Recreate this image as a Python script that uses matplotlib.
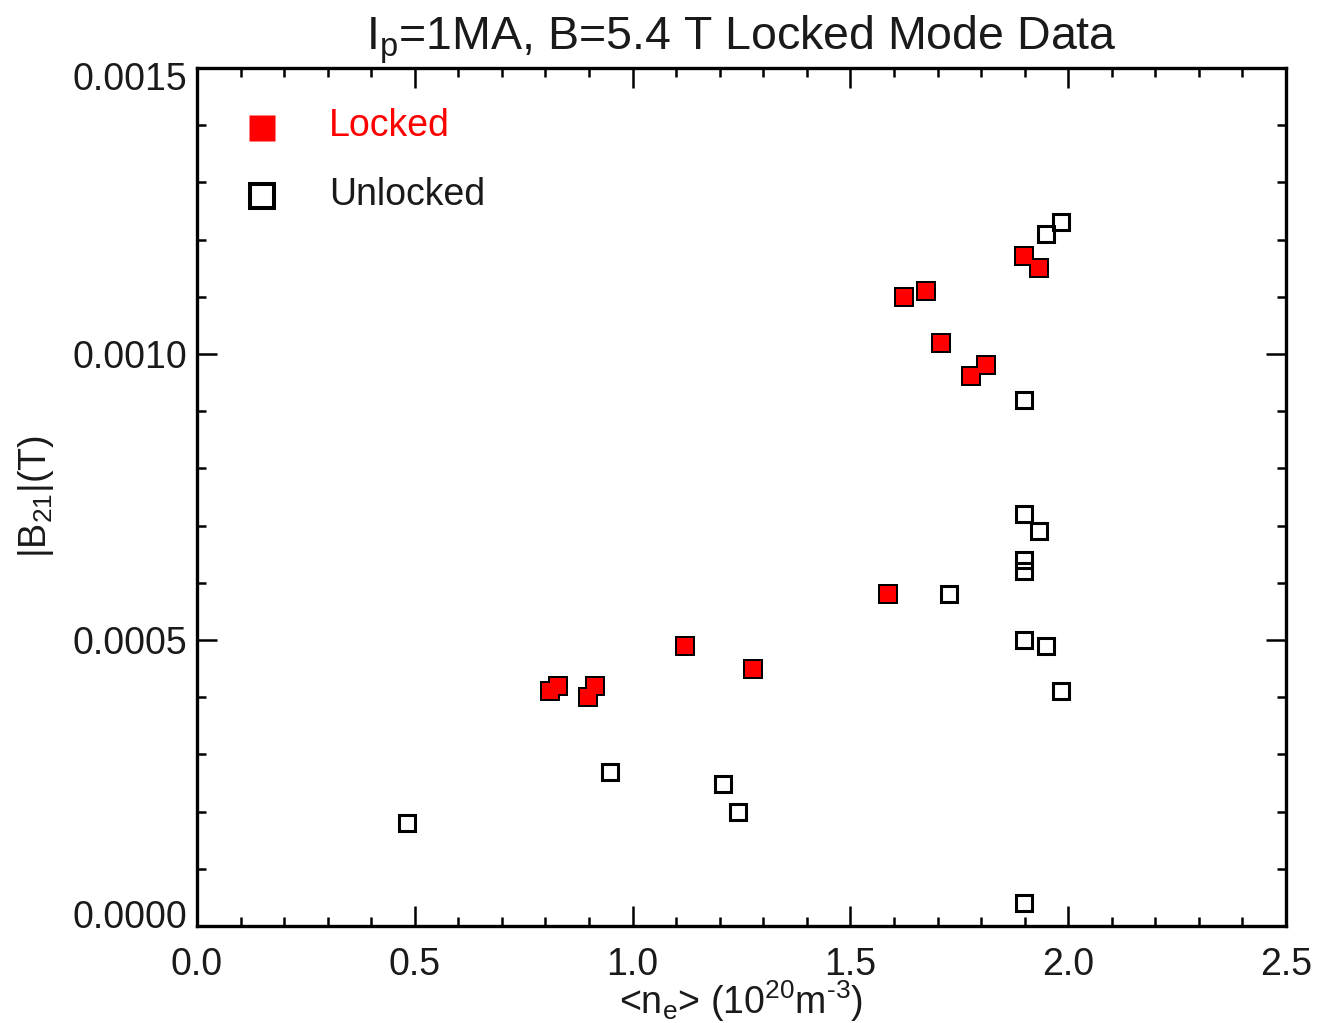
import matplotlib
matplotlib.use("Agg")
import matplotlib.pyplot as plt
from matplotlib.ticker import MultipleLocator, FormatStrFormatter
from matplotlib.transforms import ScaledTranslation

plt.rcParams['font.family'] = ['Liberation Sans', 'DejaVu Sans']
plt.rcParams['mathtext.fontset'] = 'custom'
plt.rcParams['mathtext.rm'] = 'Liberation Sans'
plt.rcParams['mathtext.it'] = 'Liberation Sans:italic'
plt.rcParams['mathtext.bf'] = 'Liberation Sans:bold'

# Line-averaged density (1e20 m^-3) and |B21| (T)
locked_ne = [0.810, 0.828, 0.898, 0.914, 1.121, 1.276, 1.586,
             1.622, 1.674, 1.707, 1.777, 1.811, 1.898, 1.932]
locked_b21 = [0.000411, 0.000420, 0.000400, 0.000420, 0.000490, 0.000449, 0.000580,
              0.001100, 0.001110, 0.001020, 0.000962, 0.000980, 0.001171, 0.001150]

unlocked_ne = [0.482, 0.949, 1.2075, 1.242, 1.726, 1.898, 1.932, 1.898, 1.898,
               1.898, 1.950, 1.983, 1.898, 1.950, 1.983, 1.898]
unlocked_b21 = [0.000180, 0.000269, 0.000249, 0.000199, 0.000580, 0.000720, 0.000690,
                0.000640, 0.000620, 0.000500, 0.000489, 0.000410, 0.000920,
                0.001210, 0.001231, 0.0000402]

title = r'I$_\mathregular{p}$=1MA, B=5.4 T Locked Mode Data'
xlabel = '<n$_\\mathregular{e}$> (10$^\\mathregular{20}$m$^\\mathregular{\u20103}$)'
ylabel = r'|B$_\mathregular{21}$|(T)'

TXT = '#1a1a1a'
FS = 27

fig = plt.figure(figsize=(13.17, 10.23), dpi=100)
ax = fig.add_axes([197 / 1317, 97 / 1023, 1089 / 1317, 858 / 1023])

# unlocked: open squares
ax.plot(unlocked_ne, unlocked_b21, ls='none', marker='s', ms=11.7,
        mfc='none', mec='black', mew=2.2, zorder=3)
# locked: black outline layer, then red fill on top so overlaps merge
ax.plot(locked_ne, locked_b21, ls='none', marker='s', ms=13.9,
        mfc='black', mec='none', mew=0, zorder=4)
ax.plot(locked_ne, locked_b21, ls='none', marker='s', ms=11.0,
        mfc='red', mec='none', mew=0, zorder=5)

ax.set_xlim(0, 2.5)
ax.set_ylim(0, 0.0015)
ax.xaxis.set_major_locator(MultipleLocator(0.5))
ax.xaxis.set_minor_locator(MultipleLocator(0.1))
ax.yaxis.set_major_locator(MultipleLocator(0.0005))
ax.yaxis.set_minor_locator(MultipleLocator(0.0001))
ax.xaxis.set_major_formatter(FormatStrFormatter('%.1f'))
ax.yaxis.set_major_formatter(FormatStrFormatter('%.4f'))

ax.tick_params(which='both', direction='in', top=True, right=True,
               colors='black', labelcolor=TXT, labelsize=FS, width=1.8)
ax.tick_params(which='major', length=14.4)
ax.tick_params(which='minor', length=6.5)
ax.tick_params(axis='x', which='major', pad=15)
ax.tick_params(axis='y', which='major', pad=7)
for sp in ax.spines.values():
    sp.set_linewidth(2.4)
    sp.set_color('black')

ax.set_title(title, fontsize=33.5, color=TXT, pad=13)
ax.set_xlabel(xlabel, fontsize=FS, color=TXT, labelpad=-3)
ax.set_ylabel(ylabel, fontsize=FS, color=TXT, labelpad=12)

# key
ax.plot([0.0597], [0.930], transform=ax.transAxes, ls='none', marker='s',
        ms=18.7, mfc='red', mec='none', clip_on=False, zorder=6)
ax.plot([0.0597], [0.851], transform=ax.transAxes, ls='none', marker='s',
        ms=17.3, mfc='none', mec='black', mew=2.9, clip_on=False, zorder=6)
ax.text(0.1212, 0.9207, 'Locked', transform=ax.transAxes, color='red',
        fontsize=FS, va='baseline', ha='left')
ax.text(0.1212, 0.8403, 'Unlocked', transform=ax.transAxes, color=TXT,
        fontsize=FS, va='baseline', ha='left')

# keep the end y labels inside the frame (offsets in pixels at 100 dpi)
fig.canvas.draw()
yticks = ax.yaxis.get_major_ticks()
for tk, loc in zip(yticks, ax.get_yticks()):
    if abs(loc - 0.0015) < 1e-9:
        tk.label1.set_transform(tk.label1.get_transform()
                                + ScaledTranslation(0, -8 / 100, fig.dpi_scale_trans))
    elif abs(loc) < 1e-9:
        tk.label1.set_transform(tk.label1.get_transform()
                                + ScaledTranslation(0, 12 / 100, fig.dpi_scale_trans))

fig.savefig('out.png', dpi=100)
